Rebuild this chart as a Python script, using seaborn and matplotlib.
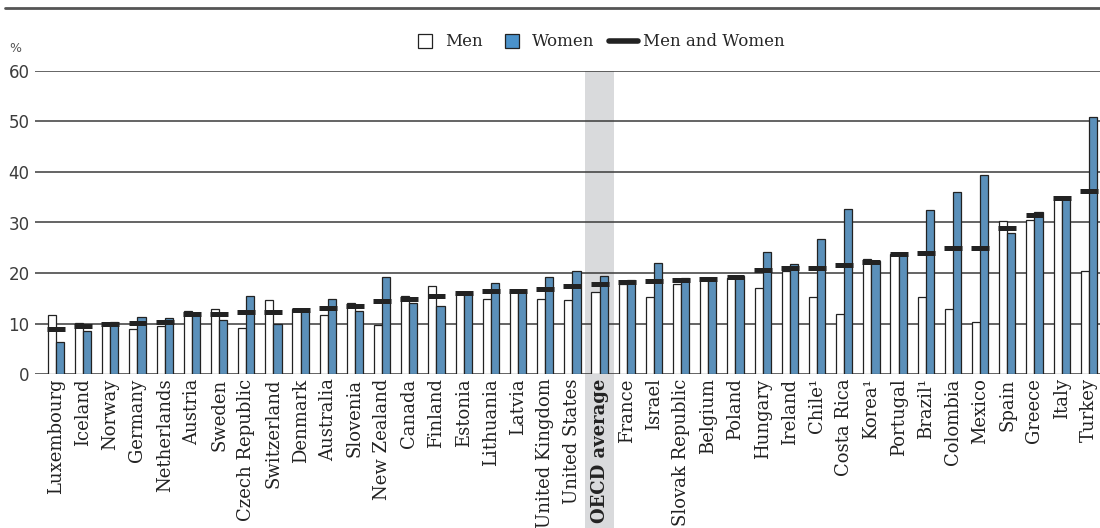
"""Old-age poverty rates by gender, OECD countries."""
import numpy as np
import pandas as pd
import seaborn as sns
import matplotlib.pyplot as plt
from matplotlib.lines import Line2D

countries = [
    "Luxembourg", "Iceland", "Norway", "Germany", "Netherlands", "Austria",
    "Sweden", "Czech Republic", "Switzerland", "Denmark", "Australia",
    "Slovenia", "New Zealand", "Canada", "Finland", "Estonia", "Lithuania",
    "Latvia", "United Kingdom", "United States", "OECD average", "France",
    "Israel", "Slovak Republic", "Belgium", "Poland", "Hungary", "Ireland",
    "Chile¹", "Costa Rica", "Korea¹", "Portugal", "Brazil¹", "Colombia",
    "Mexico", "Spain", "Greece", "Italy", "Turkey",
]
men = [
    11.7, 10.1, 9.7, 8.9, 9.6, 12.5, 13.0, 9.1, 14.6, 12.9,
    11.7, 14.0, 9.7, 15.4, 17.5, 16.0, 14.8, 16.4, 14.8, 14.6,
    16.3, 17.9, 15.2, 17.9, 18.6, 19.0, 17.1, 20.5, 15.3, 11.9,
    22.7, 23.7, 15.2, 12.9, 10.3, 30.2, 30.4, 34.6, 20.5,
]
women = [
    6.3, 8.6, 10.3, 11.3, 11.1, 11.7, 10.8, 15.5, 10.0, 12.5,
    14.8, 12.5, 19.2, 14.0, 13.5, 16.0, 18.1, 16.5, 19.2, 20.4,
    19.4, 18.6, 22.0, 19.1, 18.6, 19.4, 24.1, 21.7, 26.7, 32.7,
    22.4, 23.7, 32.5, 36.1, 39.4, 27.9, 32.0, 34.6, 50.9,
]
total = [
    9.0, 9.5, 9.9, 10.2, 10.4, 12.0, 12.0, 12.3, 12.4, 12.8,
    13.2, 13.4, 14.4, 14.8, 15.5, 16.1, 16.4, 16.5, 16.9, 17.5,
    17.9, 18.3, 18.5, 18.6, 18.9, 19.2, 20.6, 21.1, 21.1, 21.6,
    22.1, 23.8, 24.0, 25.0, 25.0, 29.0, 31.4, 34.8, 36.3,
]
yticks = [0, 10, 20, 30, 40, 50, 60]

BLUE = "#4b92ca"
DARK = "#222222"

sns.set_style("white")
plt.rcParams["font.family"] = ["DejaVu Sans"]

df = pd.DataFrame({
    "country": countries * 2,
    "value": men + women,
    "sex": ["Men"] * len(countries) + ["Women"] * len(countries),
})

fig = plt.figure(figsize=(11, 5.28), dpi=100)
ax = fig.add_axes([35 / 1100, 153.7 / 528, 1 - 35 / 1100, 303.6 / 528])

sns.barplot(
    data=df, x="country", y="value", hue="sex",
    palette={"Men": "white", "Women": BLUE},
    width=0.6, gap=0, edgecolor=DARK, linewidth=0.9,
    legend=False, ax=ax,
)

xpos = np.arange(len(countries))
ax.hlines(total, xpos - 0.33, xpos + 0.33, colors=DARK, lw=3.6, zorder=4)

# highlight for the OECD average, running down through the labels
oecd = countries.index("OECD average")
ax.axvspan(oecd - 0.52, oecd + 0.52, ymin=-0.52, ymax=1, color="#d9dadc",
           zorder=0, clip_on=False, lw=0)

ax.set_xlim(-0.77, 38.41)
ax.set_ylim(0, 60)
ax.set_yticks(yticks)
ax.set_axisbelow(True)
ax.grid(axis="y", color="#3a3a3a", lw=1.1)
ax.grid(axis="x", visible=False)
sns.despine(ax=ax, left=True, bottom=True)
ax.set_xlabel("")
ax.set_ylabel("")

ax.tick_params(axis="y", length=0, pad=4, labelsize=12, labelcolor="#3c3c3c")
ax.tick_params(axis="x", length=0, pad=3)
ax.set_xticks(xpos)
ax.set_xticklabels(countries, rotation=90, fontfamily="DejaVu Serif",
                   fontsize=13, color="#222222")
ax.get_xticklabels()[oecd].set_fontweight("bold")

fig.text(15 / 1100, 1 - 48 / 528, "%", fontsize=9, color="#555555",
         ha="center", va="center")

# rule under the (clipped) title
fig.add_artist(Line2D([5 / 1100, 1], [1 - 8 / 528] * 2, color="#555555", lw=2))

handles = [
    Line2D([], [], marker="s", markersize=10, markerfacecolor="white",
           markeredgecolor=DARK, markeredgewidth=0.9, linestyle="none"),
    Line2D([], [], marker="s", markersize=10, markerfacecolor=BLUE,
           markeredgecolor=DARK, markeredgewidth=0.9, linestyle="none"),
    Line2D([], [], color=DARK, lw=4),
]
fig.legend(
    handles, ["Men", "Women", "Men and Women"],
    loc="center", bbox_to_anchor=(598 / 1100, 1 - 42 / 528), ncol=3,
    frameon=False, handlelength=1.7, handletextpad=0.35, columnspacing=0.9,
    prop={"family": "DejaVu Serif", "size": 12},
)

fig.savefig("out.png", dpi=100)
